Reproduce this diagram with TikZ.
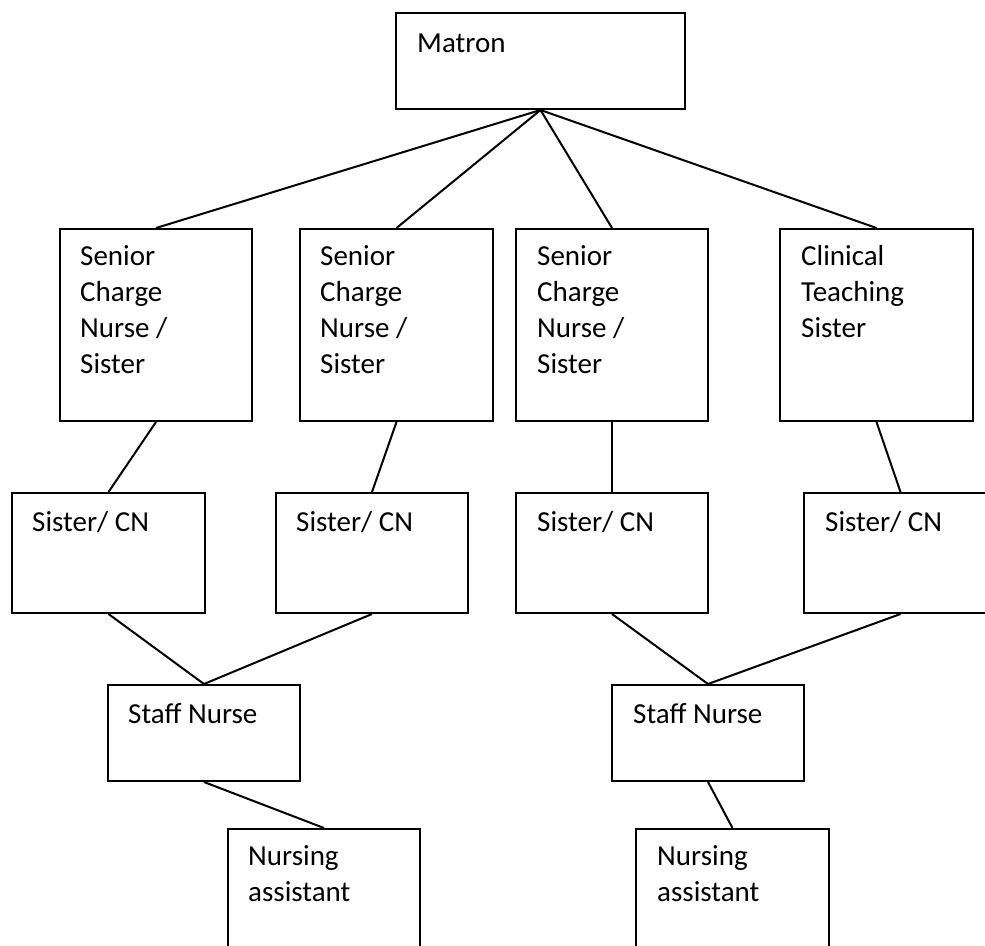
\documentclass[tikz,border=0pt]{standalone}
\usepackage{fontspec}
\setmainfont{Carlito}
\begin{document}
\begin{tikzpicture}[x=1pt,y=-1pt,
  box/.style={draw,line width=2pt,rectangle,inner sep=0pt,anchor=north west},
  lbl/.style={inner sep=0pt,anchor=base west,align=left,font=\fontsize{29}{36}\selectfont},
  link/.style={line width=2pt}]
\useasboundingbox (0,0) rectangle (985,945);
\fill[white] (0,0) rectangle (985,945);
\clip (0,0) rectangle (985,945);
% boxes
\node[box,minimum width=289pt,minimum height=96pt] (matron) at (395,12) {};
\node[box,minimum width=192pt,minimum height=192pt] (r2a) at (59,228) {};
\node[box,minimum width=193pt,minimum height=192pt] (r2b) at (299,228) {};
\node[box,minimum width=192pt,minimum height=192pt] (r2c) at (515,228) {};
\node[box,minimum width=193pt,minimum height=192pt] (r2d) at (779,228) {};
\node[box,minimum width=193pt,minimum height=120pt] (r3a) at (11,492) {};
\node[box,minimum width=192pt,minimum height=120pt] (r3b) at (275,492) {};
\node[box,minimum width=192pt,minimum height=120pt] (r3c) at (515,492) {};
\node[box,minimum width=193pt,minimum height=120pt] (r3d) at (803,492) {};
\node[box,minimum width=192pt,minimum height=96pt] (sn1) at (107,684) {};
\node[box,minimum width=192pt,minimum height=96pt] (sn2) at (611,684) {};
\node[box,minimum width=192pt,minimum height=140pt] (na1) at (227,828) {};
\node[box,minimum width=193pt,minimum height=140pt] (na2) at (635,828) {};
% texts (anchor = baseline of the last line)
\node[lbl] (tmatron) at (417,52) {Matron};
\node[lbl] (tr2a) at (80,373) {Senior\\Charge\\Nurse /\\Sister};
\node[lbl] (tr2b) at (320,373) {Senior\\Charge\\Nurse /\\Sister};
\node[lbl] (tr2c) at (537,373) {Senior\\Charge\\Nurse /\\Sister};
\node[lbl] (tr2d) at (801,337) {Clinical\\Teaching\\Sister};
\node[lbl] (tr3a) at (32,531) {Sister/ CN};
\node[lbl] (tr3b) at (296,531) {Sister/ CN};
\node[lbl] (tr3c) at (537,531) {Sister/ CN};
\node[lbl] (tr3d) at (825,531) {Sister/ CN};
\node[lbl] (tsn1) at (128,723) {Staff Nurse};
\node[lbl] (tsn2) at (633,723) {Staff Nurse};
\node[lbl] (tna1) at (248,901) {Nursing\\assistant};
\node[lbl] (tna2) at (657,901) {Nursing\\assistant};
% connectors
\draw[link] (matron.south) -- (r2a.north);
\draw[link] (matron.south) -- (r2b.north);
\draw[link] (matron.south) -- (r2c.north);
\draw[link] (matron.south) -- (r2d.north);
\draw[link] (r2a.south) -- (r3a.north);
\draw[link] (r2b.south) -- (r3b.north);
\draw[link] (r2c.south) -- (r3c.north);
\draw[link] (r2d.south) -- (r3d.north);
\draw[link] (r3a.south) -- (sn1.north);
\draw[link] (r3b.south) -- (sn1.north);
\draw[link] (r3c.south) -- (sn2.north);
\draw[link] (r3d.south) -- (sn2.north);
\draw[link] (sn1.south) -- (na1.north);
\draw[link] (sn2.south) -- (na2.north);
\end{tikzpicture}
\end{document}
